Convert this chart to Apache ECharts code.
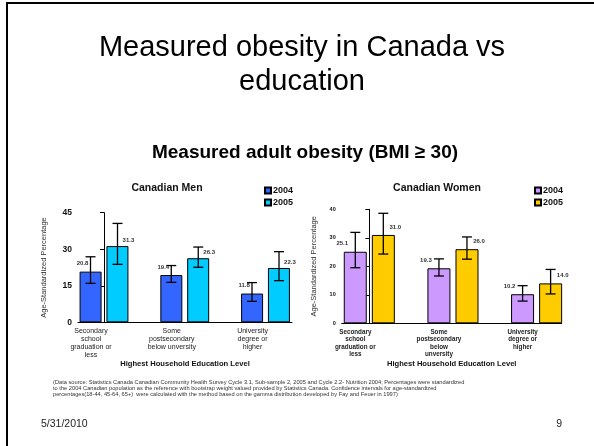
<!DOCTYPE html>
<html>
<head>
<meta charset="utf-8">
<script src="https://cdn.jsdelivr.net/npm/echarts@6/dist/echarts.min.js"></script>
<style>
  html, body { margin: 0; padding: 0; background: #fff; }
  #chart { width: 594px; height: 446px; }
</style>
</head>
<body>
<div id="chart"></div>
<script>
// categories
const menCategories = ['Secondary\nschool\ngraduation or\nless', 'Some\npostsecondary\nbelow unversity', 'University\ndegree or\nhigher']
const womenCategories = ['Secondary\nschool\ngraduation or\nless', 'Some\npostsecondary\nbelow\nunversity', 'University\ndegree or\nhigher']

// men
const men2004 = [20.8, 19.4, 11.8]
const men2005 = [31.3, 26.3, 22.3]
const men2004Low = [16.0, 16.4, 8.6]
const men2004High = [26.9, 23.3, 16.3]
const men2005Low = [23.8, 22.6, 17.1]
const men2005High = [40.6, 30.9, 29.0]

// women
const women2004 = [25.1, 19.3, 10.2]
const women2005 = [31.0, 26.0, 14.0]
const women2004Low = [19.5, 16.6, 7.8]
const women2004High = [31.9, 22.6, 13.2]
const women2005Low = [24.3, 22.5, 10.3]
const women2005High = [38.6, 30.3, 18.9]

const FONT = 'Liberation Sans, Arial, sans-serif'

const chart = echarts.init(document.getElementById('chart'))

function toPoints(values) {
  return values.map((v, i) => [i, v])
}

function toRanges(low, high) {
  return low.map((v, i) => [i, v, high[i]])
}

// error bar drawn through the axis scales, shifted to sit on its bar
function errorBar(shift) {
  return function (params, api) {
    const x = api.value(0)
    const top = api.coord([x, api.value(2)])
    const bottom = api.coord([x, api.value(1)])
    const cx = top[0] + shift
    const half = 5
    const style = { stroke: '#000', lineWidth: 1.3 }
    return {
      type: 'group',
      children: [
        { type: 'line', shape: { x1: cx, y1: top[1], x2: cx, y2: bottom[1] }, style },
        { type: 'line', shape: { x1: cx - half, y1: top[1], x2: cx + half, y2: top[1] }, style },
        { type: 'line', shape: { x1: cx - half, y1: bottom[1], x2: cx + half, y2: bottom[1] }, style }
      ]
    }
  }
}

function xAxisFor(gridIndex, min, max, names, labelStyle, shiftPad) {
  return {
    type: 'value',
    gridIndex,
    min,
    max,
    splitLine: { show: false },
    axisLine: { onZero: false, lineStyle: { color: '#000', width: 1 } },
    axisTick: { show: false },
    axisLabel: Object.assign({
      customValues: [0, 1, 2],
      formatter: (v) => names[Math.round(v)],
      margin: 5,
      color: '#222',
      fontFamily: FONT,
      padding: [0, shiftPad, 0, 0]
    }, labelStyle),
    name: 'Highest Household Education Level',
    nameLocation: 'middle',
    nameGap: 37,
    nameTextStyle: { fontFamily: FONT, fontWeight: 'bold', fontSize: 7.6, color: '#111' }
  }
}

function yAxisFor(gridIndex, max, interval, labelSize, nameGap) {
  return {
    type: 'value',
    gridIndex,
    min: 0,
    max,
    interval,
    splitLine: { show: false },
    axisLine: { show: true, lineStyle: { color: '#000', width: 1 } },
    axisTick: { show: true, length: 4, lineStyle: { color: '#000' } },
    axisLabel: { fontFamily: FONT, fontWeight: 'bold', fontSize: labelSize, color: '#111', margin: 6 },
    name: 'Age-Standardized Percentage',
    nameLocation: 'middle',
    nameGap,
    nameTextStyle: { fontFamily: FONT, fontSize: 7.5, color: '#333' }
  }
}

function barSeries(name, values, axisIndex, color, width, labelOffset) {
  return {
    name,
    type: 'bar',
    xAxisIndex: axisIndex,
    yAxisIndex: axisIndex,
    data: toPoints(values),
    barWidth: width,
    barGap: '22%',
    itemStyle: { color, borderColor: '#000', borderWidth: 1 },
    label: {
      show: true,
      position: 'top',
      offset: labelOffset,
      formatter: (p) => p.value[1].toFixed(1),
      fontFamily: FONT,
      fontWeight: 'bold',
      fontSize: 6,
      color: '#333'
    }
  }
}

function errorSeries(low, high, axisIndex, shift) {
  return {
    type: 'custom',
    xAxisIndex: axisIndex,
    yAxisIndex: axisIndex,
    data: toRanges(low, high),
    renderItem: errorBar(shift),
    z: 5,
    silent: true
  }
}

const legendBase = {
  orient: 'vertical',
  icon: 'rect',
  itemWidth: 6,
  itemHeight: 6,
  itemGap: 3,
  formatter: (name) => name.split(' ')[1],
  textStyle: { fontFamily: FONT, fontWeight: 'bold', fontSize: 9, color: '#111', padding: [0, 0, 0, -3] }
}

const option = {
  animation: false,
  backgroundColor: '#fff',
  graphic: [
    { type: 'line', shape: { x1: 6, y1: 3, x2: 594, y2: 3 }, style: { stroke: '#000', lineWidth: 2 } },
    { type: 'line', shape: { x1: 7, y1: 3, x2: 7, y2: 446 }, style: { stroke: '#000', lineWidth: 2 } },
    {
      type: 'text', x: 302, y: 31,
      style: {
        text: 'Measured obesity in Canada vs\neducation',
        font: '29px ' + FONT, fill: '#000', align: 'center', verticalAlign: 'top', lineHeight: 34
      }
    },
    {
      type: 'text', x: 305, y: 153,
      style: {
        text: 'Measured adult obesity (BMI \u2265 30)',
        font: 'bold 19px ' + FONT, fill: '#000', align: 'center', verticalAlign: 'middle'
      }
    },
    {
      type: 'text', x: 167, y: 188,
      style: { text: 'Canadian Men', font: 'bold 10.5px ' + FONT, fill: '#111', align: 'center', verticalAlign: 'middle' }
    },
    {
      type: 'text', x: 437, y: 188,
      style: { text: 'Canadian Women', font: 'bold 10.5px ' + FONT, fill: '#111', align: 'center', verticalAlign: 'middle' }
    },
    {
      type: 'text', x: 53, y: 379,
      style: {
        text: '(Data source: Statistics Canada Canadian Community Health Survey Cycle 3.1, Sub-sample 2, 2005 and Cycle 2.2- Nutrition 2004; Percentages were standardized\n' +
          'to the 2004 Canadian population as the reference with bootstrap weight valued provided by Statistics Canada. Confidence intervals for age-standardized\n' +
          'percentages(18-44, 45-64, 65+)  were calculated with the method based on the gamma distribution developed by Fay and Feuer in 1997)',
        font: '5.7px ' + FONT, fill: '#333', align: 'left', verticalAlign: 'top', lineHeight: 6
      }
    },
    {
      type: 'text', x: 41, y: 424,
      style: { text: '5/31/2010', font: '10.5px ' + FONT, fill: '#222', align: 'left', verticalAlign: 'middle' }
    },
    {
      type: 'text', x: 562, y: 424,
      style: { text: '9', font: '10.5px ' + FONT, fill: '#222', align: 'right', verticalAlign: 'middle' }
    }
  ],
  legend: [
    Object.assign({}, legendBase, { left: 259, top: 181, data: ['Men 2004', 'Men 2005'] }),
    Object.assign({}, legendBase, { left: 529, top: 181, data: ['Women 2004', 'Women 2005'] })
  ],
  grid: [
    { left: 78, right: 302, top: 212.7, bottom: 123.7 },
    { left: 341.7, right: 32.3, top: 209.3, bottom: 122.7 }
  ],
  xAxis: [
    xAxisFor(0, -0.322, 2.328, menCategories, { fontSize: 7, lineHeight: 8 }, 26),
    xAxisFor(1, -0.33, 2.30, womenCategories, { fontSize: 6.3, fontWeight: 'bold', lineHeight: 7.5 }, 28)
  ],
  yAxis: [
    yAxisFor(0, 45, 15, 8.5, 30),
    yAxisFor(1, 40, 10, 5.5, 24)
  ],
  series: [
    barSeries('Men 2004', men2004, 0, '#3366FF', 22, [-8, 0]),
    barSeries('Men 2005', men2005, 0, '#00CCFF', 22, [11, 2]),
    errorSeries(men2004Low, men2004High, 0, -13.5),
    errorSeries(men2005Low, men2005High, 0, 13.5),
    barSeries('Women 2004', women2004, 1, '#CC99FF', 23, [-13, 0]),
    barSeries('Women 2005', women2005, 1, '#FFCC00', 23, [12, 0]),
    errorSeries(women2004Low, women2004High, 1, -14),
    errorSeries(women2005Low, women2005High, 1, 14)
  ]
}

chart.setOption(option)
</script>
</body>
</html>
